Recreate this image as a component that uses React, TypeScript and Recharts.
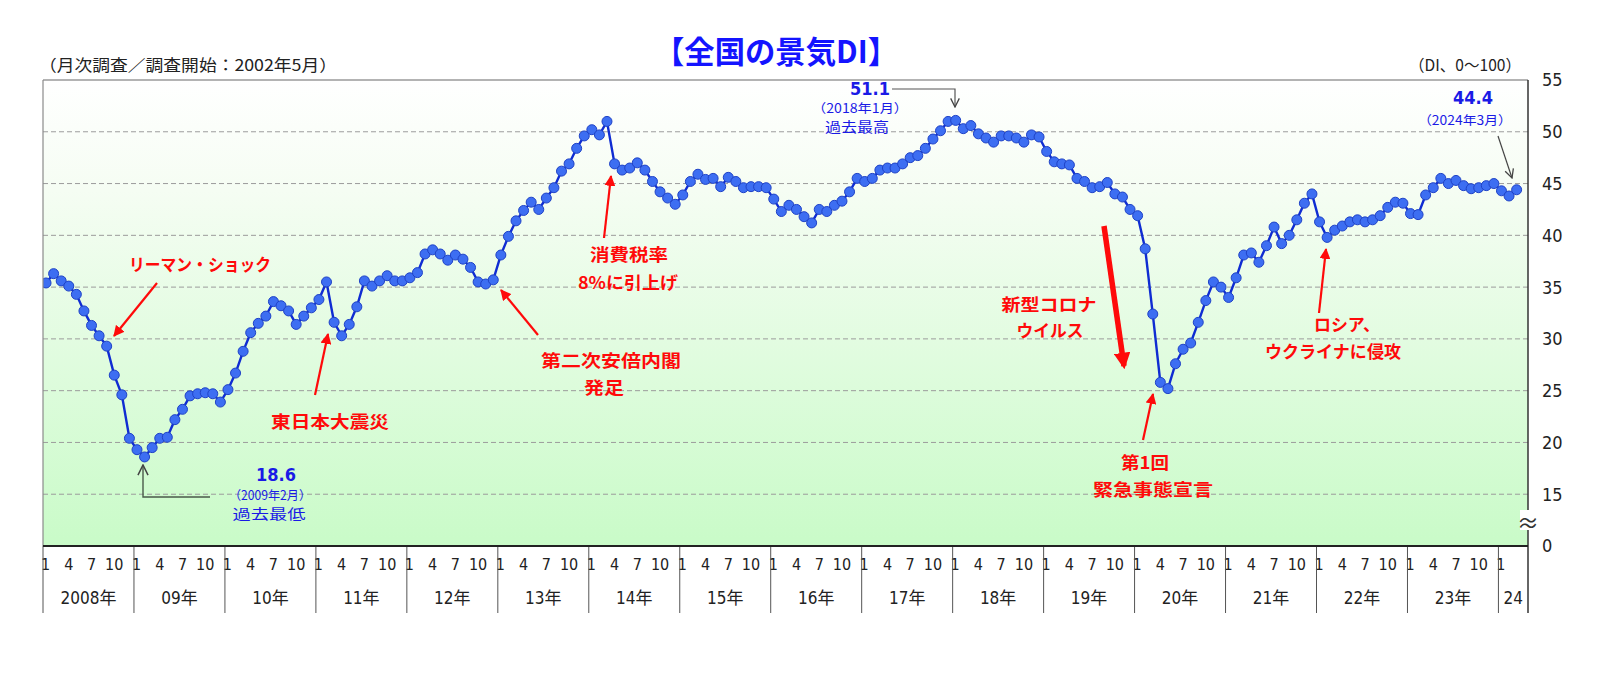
import { LineChart, Line, XAxis, YAxis, CartesianGrid } from 'recharts';

// 全国の景気DI（月次）2008年1月〜2024年3月
const di2008 = [35.4, 36.3, 35.6, 35.1, 34.3, 32.7, 31.3, 30.3, 29.3, 26.5, 24.6, 20.4];
const di2009 = [19.3, 18.6, 19.5, 20.4, 20.5, 22.2, 23.2, 24.5, 24.7, 24.8, 24.7, 23.9];
const di2010 = [25.1, 26.7, 28.8, 30.6, 31.5, 32.2, 33.6, 33.2, 32.7, 31.4, 32.2, 33.0];
const di2011 = [33.8, 35.5, 31.6, 30.3, 31.4, 33.1, 35.6, 35.1, 35.6, 36.1, 35.6, 35.6];
const di2012 = [35.9, 36.4, 38.2, 38.6, 38.2, 37.6, 38.1, 37.7, 36.9, 35.5, 35.3, 35.7];
const di2013 = [38.1, 39.9, 41.4, 42.4, 43.2, 42.5, 43.6, 44.6, 46.2, 46.9, 48.4, 49.6];
const di2014 = [50.2, 49.7, 51.0, 46.9, 46.3, 46.5, 47.0, 46.3, 45.2, 44.2, 43.6, 43.0];
const di2015 = [43.9, 45.2, 45.9, 45.4, 45.5, 44.7, 45.6, 45.2, 44.6, 44.7, 44.7, 44.6];
const di2016 = [43.5, 42.3, 42.9, 42.5, 41.8, 41.2, 42.5, 42.3, 42.9, 43.3, 44.2, 45.5];
const di2017 = [45.2, 45.5, 46.3, 46.5, 46.5, 46.9, 47.5, 47.7, 48.4, 49.3, 50.1, 51.0];
const di2018 = [51.1, 50.3, 50.6, 49.8, 49.4, 49.0, 49.6, 49.6, 49.4, 49.0, 49.7, 49.5];
const di2019 = [48.1, 47.1, 46.9, 46.8, 45.5, 45.2, 44.6, 44.7, 45.1, 44.0, 43.7, 42.5];
const di2020 = [41.9, 38.7, 32.4, 25.8, 25.2, 27.6, 29.0, 29.6, 31.6, 33.7, 35.5, 35.0];
const di2021 = [34.0, 35.9, 38.1, 38.3, 37.4, 39.0, 40.8, 39.2, 40.0, 41.5, 43.1, 44.0];
const di2022 = [41.3, 39.8, 40.5, 40.9, 41.3, 41.5, 41.3, 41.5, 41.9, 42.7, 43.2, 43.1];
const di2023 = [42.1, 42.0, 43.9, 44.6, 45.5, 45.0, 45.3, 44.8, 44.5, 44.6, 44.8, 45.0];
const di2024 = [44.3, 43.8, 44.4];

const YEAR_LABELS = ['2008年', '09年', '10年', '11年', '12年', '13年', '14年', '15年', '16年',
  '17年', '18年', '19年', '20年', '21年', '22年', '23年', '24'];
const MONTH_LABELS = ['1', '4', '7', '10'];
const Y_TICKS = [10, 15, 20, 25, 30, 35, 40, 45, 50, 55];
const Y_TICK_LABELS = ['0', '15', '20', '25', '30', '35', '40', '45', '50', '55'];

const allValues = [di2008, di2009, di2010, di2011, di2012, di2013, di2014, di2015, di2016,
  di2017, di2018, di2019, di2020, di2021, di2022, di2023, di2024].flat();
const data = allValues.map((v, i) => ({ i, v }));

const monthTicks: number[] = [];
YEAR_LABELS.forEach((_, y) => {
  [0, 3, 6, 9].forEach((m) => {
    if (y * 12 + m < allValues.length) monthTicks.push(y * 12 + m);
  });
});

// layout
const W = 1600;
const H = 677;
const PL = 43;
const PR = 1528;
const PT = 80;
const PB = 546;
const X_MIN = -0.4;
const X_MAX = 195.5;
const Y_MIN = 10;
const Y_MAX = 55;
const STEP = (PR - PL) / (X_MAX - X_MIN);

const NARROW = '"Liberation Sans Narrow", "DejaVu Sans Condensed", "Noto Sans CJK JP", sans-serif';
const JP = '"Noto Sans CJK JP", sans-serif';
const RED = '#ff0a0a';
const BLUE = '#1a1ae6';

const redNotes = [
  { text: 'リーマン・ショック', x: 200, y: 263, w: 142 },
  { text: '東日本大震災', x: 330, y: 420, w: 118 },
  { text: '消費税率', x: 629, y: 253, w: 78 },
  { text: '8%に引上げ', x: 628, y: 281, w: 100 },
  { text: '第二次安倍内閣', x: 611, y: 359, w: 140 },
  { text: '発足', x: 604, y: 386, w: 40 },
  { text: '新型コロナ', x: 1049, y: 303, w: 95 },
  { text: 'ウイルス', x: 1050, y: 329, w: 67 },
  { text: '第1回', x: 1145, y: 461, w: 48 },
  { text: '緊急事態宣言', x: 1153, y: 488, w: 120 },
  { text: 'ロシア、', x: 1347, y: 323, w: 66 },
  { text: 'ウクライナに侵攻', x: 1333, y: 350, w: 136 },
];

const redArrows = [
  [157, 283, 114, 336],
  [315, 395, 328, 334],
  [604, 238, 611, 176],
  [538, 335, 501, 290],
  [1143, 440, 1153, 394],
  [1319, 313, 1326, 249],
];

function MonthTick(props: any) {
  const { x, payload } = props;
  const i = payload.value as number;
  const m = i % 12;
  const yr = Math.floor(i / 12);
  const divX = x + X_MIN * STEP;
  return (
    <g>
      <text x={m === 0 ? divX + 2.5 : x} y={564} textAnchor="middle" dominantBaseline="central"
        fontSize={16} fontFamily={NARROW} fill="#222">
        {MONTH_LABELS[m / 3]}
      </text>
      {m === 0 && (
        <>
          <line x1={divX} x2={divX} y1={PB} y2={613} stroke="#555" strokeWidth={1} />
          <text x={(divX + (yr === 16 ? PR : divX + 12 * STEP)) / 2} y={598} textAnchor="middle"
            dominantBaseline="central" fontSize={17} fontFamily={NARROW} fill="#222">
            {YEAR_LABELS[yr]}
          </text>
        </>
      )}
    </g>
  );
}

export default function App() {
  return (
    <div style={{ position: 'absolute', top: 0, left: 0, width: W, height: H, background: '#fff' }}>
      <svg width={W} height={H} style={{ position: 'absolute', top: 0, left: 0 }}>
        <defs>
          <linearGradient id="bgGreen" x1="0" y1="0" x2="0" y2="1">
            <stop offset="0%" stopColor="#ffffff" />
            <stop offset="22%" stopColor="#f6fdf4" />
            <stop offset="100%" stopColor="#c9fbc8" />
          </linearGradient>
        </defs>
        <rect x={PL} y={PT} width={PR - PL} height={PB - PT} fill="url(#bgGreen)" />
      </svg>

      <div style={{ position: 'absolute', top: 0, left: 0 }}>
        <LineChart width={W} height={H} data={data} margin={{ top: PT, left: PL, right: 0, bottom: 0 }}>
          <CartesianGrid vertical={false} horizontalValues={[15, 20, 25, 30, 35, 40, 45, 50]}
            stroke="#9c9c9c" strokeDasharray="5 3" />
          <XAxis dataKey="i" type="number" domain={[X_MIN, X_MAX]} ticks={monthTicks} interval={0}
            allowDataOverflow height={H - PB} axisLine={false} tickLine={false} tick={<MonthTick />} />
          <YAxis orientation="right" type="number" domain={[Y_MIN, Y_MAX]} ticks={Y_TICKS} interval={0}
            allowDataOverflow width={W - PR} axisLine={false} tickLine={false} tickMargin={8}
            tickFormatter={(v: number) => Y_TICK_LABELS[Y_TICKS.indexOf(v)]}
            tick={{ fontSize: 18, fill: '#222', fontFamily: NARROW }} />
          <Line type="linear" dataKey="v" stroke="#0f2cd2" strokeWidth={2.4}
            dot={{ r: 5, fill: '#3d6ef2', stroke: '#1f42c6', strokeWidth: 1 }}
            activeDot={false} isAnimationActive={false} />
        </LineChart>
      </div>

      <svg width={W} height={H} style={{ position: 'absolute', top: 0, left: 0, pointerEvents: 'none' }}>
        <defs>
          <marker id="redHead" viewBox="0 0 10 10" refX="9" refY="5" markerWidth="5" markerHeight="5" orient="auto">
            <path d="M0,0 L10,5 L0,10 z" fill={RED} />
          </marker>
          <marker id="bigRedHead" viewBox="0 0 10 10" refX="8" refY="5" markerWidth="3" markerHeight="3" orient="auto">
            <path d="M0,0 L10,5 L0,10 z" fill={RED} />
          </marker>
          <marker id="openHead" viewBox="0 0 10 10" refX="9" refY="5" markerWidth="9" markerHeight="9" orient="auto">
            <path d="M1,1 L9,5 L1,9" fill="none" stroke="#444" strokeWidth={1.2} />
          </marker>
        </defs>

        {/* frame */}
        <line x1={PL} x2={PR} y1={PT} y2={PT} stroke="#9a9a9a" strokeWidth={1.5} />
        <line x1={PL} x2={PL} y1={PT} y2={PB} stroke="#8a8a8a" strokeWidth={1.2} />
        <line x1={PR} x2={PR} y1={PT} y2={613} stroke="#333" strokeWidth={1.5} />
        <line x1={PL} x2={PR} y1={PB} y2={PB} stroke="#222" strokeWidth={1.8} />
        <rect x={1520} y={510} width={16} height={20} fill="#fff" />
        <text x={1528} y={521} textAnchor="middle" dominantBaseline="central" fontSize={22}
          fontFamily={JP} fill="#333">≈</text>

        {/* titles */}
        <text x={776} y={49} textAnchor="middle" dominantBaseline="central" fontSize={31}
          fontWeight={700} fontFamily={JP} fill="#1414ff" textLength={244}
          lengthAdjust="spacingAndGlyphs">【全国の景気DI】</text>
        <text x={39} y={64} dominantBaseline="central" fontSize={16} fontFamily={JP} fill="#222"
          textLength={298} lengthAdjust="spacingAndGlyphs">（月次調査／調査開始：2002年5月）</text>
        <text x={1521} y={64} textAnchor="end" dominantBaseline="central" fontSize={16} fontFamily={JP}
          fill="#222" textLength={112} lengthAdjust="spacingAndGlyphs">（DI、0～100）</text>

        {/* red notes */}
        {redNotes.map((n) => (
          <text key={n.text} x={n.x} y={n.y} textAnchor="middle" dominantBaseline="central" fontSize={17}
            fontWeight={700} fontFamily={JP} fill={RED} textLength={n.w} lengthAdjust="spacingAndGlyphs">
            {n.text}
          </text>
        ))}
        {redArrows.map(([x1, y1, x2, y2], k) => (
          <line key={k} x1={x1} y1={y1} x2={x2} y2={y2} stroke={RED} strokeWidth={2.2} markerEnd="url(#redHead)" />
        ))}
        <line x1={1104} y1={226} x2={1124} y2={366} stroke={RED} strokeWidth={5.5} markerEnd="url(#bigRedHead)" />

        {/* peak / trough / latest */}
        <text x={870} y={88} textAnchor="middle" dominantBaseline="central" fontSize={18} fontWeight={700}
          fontFamily={NARROW} fill={BLUE}>51.1</text>
        <text x={860} y={107} textAnchor="middle" dominantBaseline="central" fontSize={12.5} fontFamily={JP}
          fill={BLUE} textLength={96} lengthAdjust="spacingAndGlyphs">（2018年1月）</text>
        <text x={857} y={126} textAnchor="middle" dominantBaseline="central" fontSize={13.5} fontFamily={JP}
          fill={BLUE} textLength={64} lengthAdjust="spacingAndGlyphs">過去最高</text>
        <polyline points="892,89 955,89 955,107" fill="none" stroke="#555" strokeWidth={1.2} markerEnd="url(#openHead)" />

        <text x={276} y={474} textAnchor="middle" dominantBaseline="central" fontSize={18} fontWeight={700}
          fontFamily={NARROW} fill={BLUE}>18.6</text>
        <text x={270} y={494} textAnchor="middle" dominantBaseline="central" fontSize={12.5} fontFamily={JP}
          fill={BLUE} textLength={82} lengthAdjust="spacingAndGlyphs">（2009年2月）</text>
        <text x={269} y={513} textAnchor="middle" dominantBaseline="central" fontSize={13.5} fontFamily={JP}
          fill={BLUE} textLength={73} lengthAdjust="spacingAndGlyphs">過去最低</text>
        <polyline points="210,497 143,497 143,465" fill="none" stroke="#4a5a4a" strokeWidth={1.4} markerEnd="url(#openHead)" />

        <text x={1473} y={97} textAnchor="middle" dominantBaseline="central" fontSize={18} fontWeight={700}
          fontFamily={NARROW} fill={BLUE}>44.4</text>
        <text x={1465} y={119} textAnchor="middle" dominantBaseline="central" fontSize={12.5} fontFamily={JP}
          fill={BLUE} textLength={94} lengthAdjust="spacingAndGlyphs">（2024年3月）</text>
        <line x1={1498} y1={136} x2={1512} y2={178} stroke="#444" strokeWidth={1.2} markerEnd="url(#openHead)" />
      </svg>
    </div>
  );
}
